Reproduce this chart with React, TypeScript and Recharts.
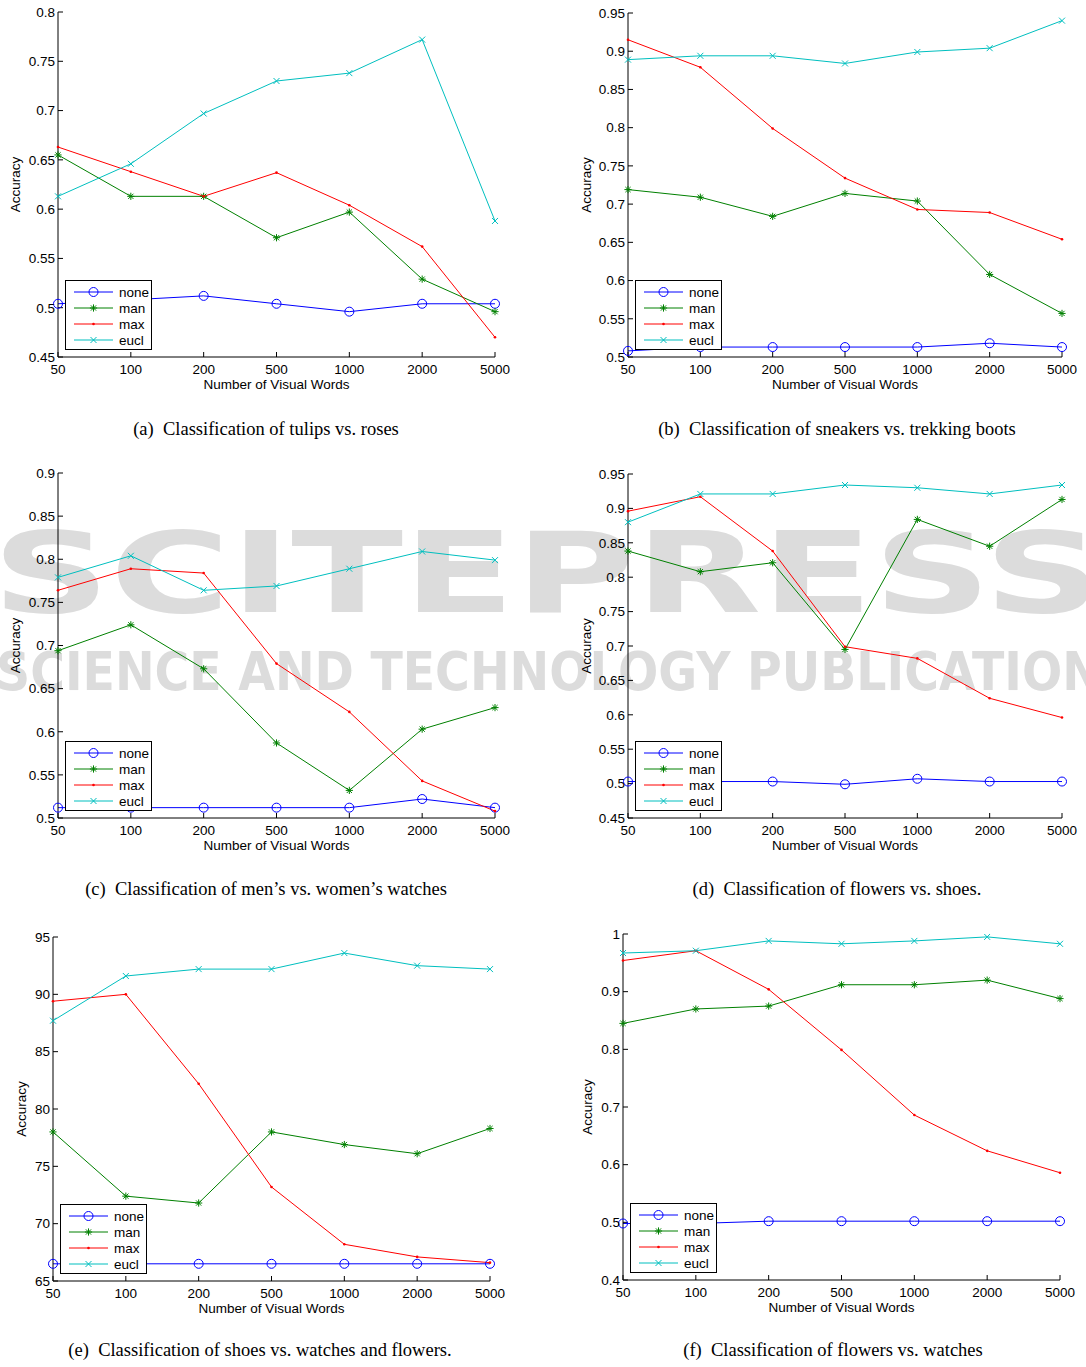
import React from 'react';
import { LineChart, Line, XAxis, YAxis, Legend } from 'recharts';

const visualWords = ['50', '100', '200', '500', '1000', '2000', '5000'];
const seriesNames = ['none', 'man', 'max', 'eucl'];
const seriesColors = ['#0000ff', '#008000', '#ff0000', '#00bfbf'];

// (a) tulips vs. roses
const tulipsNone = [0.504, 0.508, 0.512, 0.504, 0.496, 0.504, 0.504];
const tulipsMan = [0.655, 0.613, 0.613, 0.571, 0.597, 0.529, 0.496];
const tulipsMax = [0.663, 0.638, 0.613, 0.637, 0.604, 0.562, 0.47];
const tulipsEucl = [0.613, 0.646, 0.697, 0.73, 0.738, 0.772, 0.588];
const tulipsTicks = [0.45, 0.5, 0.55, 0.6, 0.65, 0.7, 0.75, 0.8];

// (b) sneakers vs. trekking boots
const bootsNone = [0.508, 0.513, 0.513, 0.513, 0.513, 0.518, 0.513];
const bootsMan = [0.719, 0.709, 0.684, 0.714, 0.704, 0.608, 0.557];
const bootsMax = [0.915, 0.879, 0.799, 0.734, 0.693, 0.689, 0.654];
const bootsEucl = [0.889, 0.894, 0.894, 0.884, 0.899, 0.904, 0.94];
const bootsTicks = [0.5, 0.55, 0.6, 0.65, 0.7, 0.75, 0.8, 0.85, 0.9, 0.95];

// (c) men's vs. women's watches
const watchesNone = [0.512, 0.512, 0.512, 0.512, 0.512, 0.522, 0.512];
const watchesMan = [0.694, 0.724, 0.673, 0.587, 0.532, 0.603, 0.628];
const watchesMax = [0.764, 0.789, 0.784, 0.679, 0.623, 0.543, 0.508];
const watchesEucl = [0.779, 0.804, 0.764, 0.769, 0.789, 0.809, 0.799];
const watchesTicks = [0.5, 0.55, 0.6, 0.65, 0.7, 0.75, 0.8, 0.85, 0.9];

// (d) flowers vs. shoes
const flowersShoesNone = [0.503, 0.503, 0.503, 0.499, 0.507, 0.503, 0.503];
const flowersShoesMan = [0.838, 0.808, 0.821, 0.695, 0.884, 0.845, 0.913];
const flowersShoesMax = [0.896, 0.917, 0.838, 0.699, 0.682, 0.624, 0.596];
const flowersShoesEucl = [0.88, 0.921, 0.921, 0.934, 0.93, 0.921, 0.934];
const flowersShoesTicks = [0.45, 0.5, 0.55, 0.6, 0.65, 0.7, 0.75, 0.8, 0.85, 0.9, 0.95];

// (e) shoes vs. watches and flowers (percent)
const shoesNone = [66.5, 66.5, 66.5, 66.5, 66.5, 66.5, 66.5];
const shoesMan = [78.0, 72.4, 71.8, 78.0, 76.9, 76.1, 78.3];
const shoesMax = [89.4, 90.0, 82.2, 73.2, 68.2, 67.1, 66.6];
const shoesEucl = [87.7, 91.6, 92.2, 92.2, 93.6, 92.5, 92.2];
const shoesTicks = [65, 70, 75, 80, 85, 90, 95];

// (f) flowers vs. watches
const flowersWatchesNone = [0.498, 0.498, 0.502, 0.502, 0.502, 0.502, 0.502];
const flowersWatchesMan = [0.845, 0.87, 0.875, 0.912, 0.912, 0.92, 0.888];
const flowersWatchesMax = [0.954, 0.971, 0.904, 0.799, 0.686, 0.624, 0.586];
const flowersWatchesEucl = [0.967, 0.971, 0.988, 0.983, 0.988, 0.995, 0.983];
const flowersWatchesTicks = [0.4, 0.5, 0.6, 0.7, 0.8, 0.9, 1];

const SANS = '"Liberation Sans", Arial, Helvetica, sans-serif';
const SERIF = '"Liberation Serif", "Times New Roman", serif';
const FONT = 13.5;
const AX_W = 58; // left axis area
const AX_H = 45; // bottom axis area
const TOP = 12;
const RIGHT = 20;

const panels = [
  { caption: '(a)  Classification of tulips vs. roses', series: [tulipsNone, tulipsMan, tulipsMax, tulipsEucl], ticks: tulipsTicks, left: 58, top: 12, w: 437, h: 345, yLabel: 15, capX: 266, capY: 435 },
  { caption: '(b)  Classification of sneakers vs. trekking boots', series: [bootsNone, bootsMan, bootsMax, bootsEucl], ticks: bootsTicks, left: 628, top: 13, w: 434, h: 344, yLabel: 16, capX: 837, capY: 435 },
  { caption: '(c)  Classification of men\u2019s vs. women\u2019s watches', series: [watchesNone, watchesMan, watchesMax, watchesEucl], ticks: watchesTicks, left: 58, top: 473, w: 437, h: 345, yLabel: 15, capX: 266, capY: 895 },
  { caption: '(d)  Classification of flowers vs. shoes.', series: [flowersShoesNone, flowersShoesMan, flowersShoesMax, flowersShoesEucl], ticks: flowersShoesTicks, left: 628, top: 474, w: 434, h: 344, yLabel: 16, capX: 837, capY: 895 },
  { caption: '(e)  Classification of shoes vs. watches and flowers.', series: [shoesNone, shoesMan, shoesMax, shoesEucl], ticks: shoesTicks, left: 53, top: 937, w: 437, h: 344, yLabel: 26, capX: 260, capY: 1356 },
  { caption: '(f)  Classification of flowers vs. watches', series: [flowersWatchesNone, flowersWatchesMan, flowersWatchesMax, flowersWatchesEucl], ticks: flowersWatchesTicks, left: 623, top: 934, w: 437, h: 346, yLabel: 22, capX: 833, capY: 1356 },
];

function Marker({ kind, cx, cy, color }: { kind: string; cx: number; cy: number; color: string }) {
  if (cx == null || cy == null) return null;
  if (kind === 'none') {
    return <circle cx={cx} cy={cy} r={4.5} fill="none" stroke={color} strokeWidth={1} />;
  }
  if (kind === 'man') {
    const a = 3.6;
    const d = 2.6;
    return (
      <g stroke={color} strokeWidth={1}>
        <line x1={cx - a} y1={cy} x2={cx + a} y2={cy} />
        <line x1={cx} y1={cy - a} x2={cx} y2={cy + a} />
        <line x1={cx - d} y1={cy - d} x2={cx + d} y2={cy + d} />
        <line x1={cx - d} y1={cy + d} x2={cx + d} y2={cy - d} />
      </g>
    );
  }
  if (kind === 'max') {
    return <circle cx={cx} cy={cy} r={1.3} fill={color} />;
  }
  const d = 3;
  return (
    <g stroke={color} strokeWidth={1}>
      <line x1={cx - d} y1={cy - d} x2={cx + d} y2={cy + d} />
      <line x1={cx - d} y1={cy + d} x2={cx + d} y2={cy - d} />
    </g>
  );
}

// legend keeps the plotting order: none, man, max, eucl
function renderLegend(props: any) {
  const items = [...(props.payload || [])].sort(
    (a: any, b: any) => seriesNames.indexOf(a.value) - seriesNames.indexOf(b.value)
  );
  return (
    <svg width={87} height={70} style={{ display: 'block' }}>
      <rect x={0.5} y={0.5} width={86} height={69} fill="#fff" stroke="#000" />
      {items.map((it: any, i: number) => {
        const y = 12 + i * 16;
        return (
          <g key={it.value}>
            <line x1={9} x2={48} y1={y} y2={y} stroke={it.color} strokeWidth={1} />
            <Marker kind={it.value} cx={28.5} cy={y} color={it.color} />
            <text x={54} y={y + 4.8} fontSize={FONT} fontFamily={SANS} fill="#000">{it.value}</text>
          </g>
        );
      })}
    </svg>
  );
}

function Panel({ p }: { p: (typeof panels)[number] }) {
  const data = visualWords.map((k, i) => {
    const row: any = { k };
    seriesNames.forEach((n, j) => { row[n] = p.series[j][i]; });
    return row;
  });
  const domain = [p.ticks[0], p.ticks[p.ticks.length - 1]];
  const tickStyle = { fill: '#000', fontSize: FONT, fontFamily: SANS };
  return (
    <div style={{ position: 'absolute', left: p.left - AX_W, top: p.top - TOP }}>
      <LineChart width={AX_W + p.w + RIGHT} height={TOP + p.h + AX_H} data={data} margin={{ top: TOP, right: RIGHT, bottom: 0, left: 0 }}>
        <XAxis xAxisId="b" dataKey="k" type="category" height={AX_H} interval={0} stroke="#000" tickSize={-5} tickMargin={12} tick={tickStyle}
          label={{ value: 'Number of Visual Words', position: 'insideBottom', offset: 13, style: { fill: '#000', fontSize: FONT, fontFamily: SANS } }} />
        <XAxis xAxisId="t" dataKey="k" type="category" orientation="top" height={0} interval={0} stroke="#000" tickSize={-5} tick={false} />
        <YAxis yAxisId="l" type="number" domain={domain} ticks={p.ticks} interval={0} allowDataOverflow width={AX_W} stroke="#000" tickSize={-5} tickMargin={8} tick={tickStyle}
          label={{ value: 'Accuracy', angle: -90, position: 'insideLeft', offset: p.yLabel, style: { textAnchor: 'middle', fill: '#000', fontSize: FONT, fontFamily: SANS } }} />
        <YAxis yAxisId="r" type="number" orientation="right" domain={domain} ticks={p.ticks} interval={0} allowDataOverflow width={0} stroke="#000" tickSize={-5} tick={false} />
        <Legend layout="vertical" verticalAlign="middle" align="center" content={renderLegend}
          wrapperStyle={{ left: AX_W + 7, top: TOP + p.h - 7 - 70, width: 87, height: 70 }} />
        {seriesNames.map((n, i) => (
          <Line key={n} xAxisId="b" yAxisId="l" dataKey={n} name={n} stroke={seriesColors[i]} strokeWidth={1}
            dot={(d: any) => <Marker key={`${n}-${d.index}`} kind={n} cx={d.cx} cy={d.cy} color={seriesColors[i]} />}
            activeDot={false} isAnimationActive={false} />
        ))}
      </LineChart>
    </div>
  );
}

export default function App() {
  return (
    <div style={{ position: 'absolute', left: 0, top: 0, width: 1086, height: 1367, background: '#fff', overflow: 'hidden' }}>
      {/* publisher watermark behind the plots */}
      <svg width={1086} height={1367} style={{ position: 'absolute', left: 0, top: 0 }}>
        <g fill="#dcdcdc" fontFamily='"DejaVu Sans", sans-serif' fontWeight="bold">
          <text x={-8} y={612} fontSize={112} textLength={1110} lengthAdjust="spacingAndGlyphs">SCITEPRESS</text>
          <text x={-4} y={690} fontSize={54} textLength={1140} lengthAdjust="spacingAndGlyphs">SCIENCE AND TECHNOLOGY PUBLICATIONS</text>
        </g>
      </svg>
      {panels.map((p) => <Panel key={p.caption} p={p} />)}
      {panels.map((p) => (
        <div key={'c' + p.caption} style={{ position: 'absolute', left: p.capX - 300, top: p.capY - 15, width: 600, textAlign: 'center', fontFamily: SERIF, fontSize: 18.5, lineHeight: '18.5px', whiteSpace: 'pre', color: '#000' }}>
          {p.caption}
        </div>
      ))}
    </div>
  );
}
